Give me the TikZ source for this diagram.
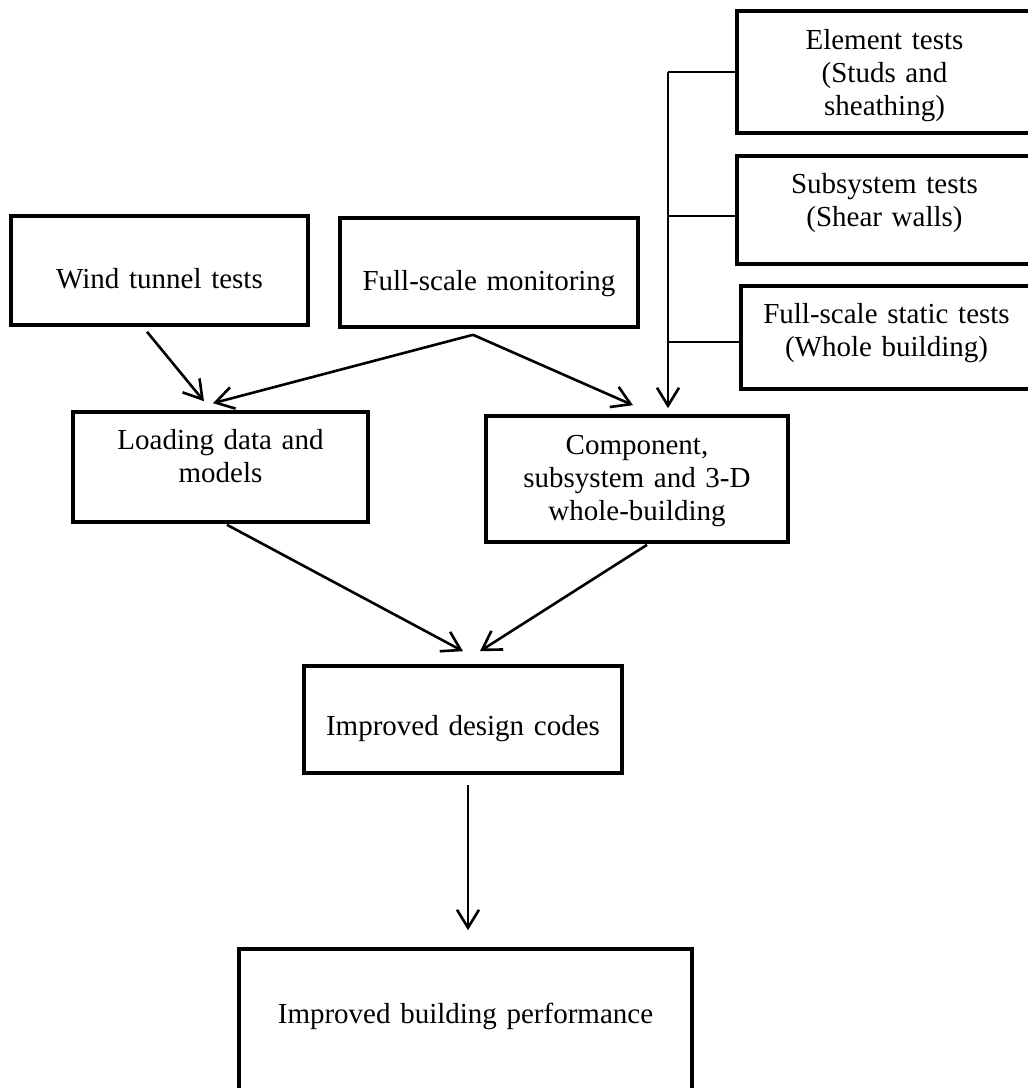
\documentclass[tikz,border=0pt]{standalone}
\usepackage{fontspec}
\setmainfont{Liberation Serif}
\usetikzlibrary{arrows.meta,calc}

\begin{document}
\begin{tikzpicture}[x=0.5pt, y=-0.5pt,
    font=\fontsize{14.5}{16.5}\selectfont,
    box/.style 2 args={draw, line width=1.8pt, inner sep=0pt, align=center,
        minimum width=#1, minimum height=#2, text width=#1-8pt},
    sink/.style={text height=#1, text depth=0pt},
    rise/.style={text height=0pt, text depth=#1},
    wire/.style={line width=1.3pt},
    link/.style={wire, -{Straight Barb[length=9pt, width=11pt]}}]
\useasboundingbox (0,0) rectangle (1028,1088);
\node[box={147.5pt}{61pt}, rise=23pt] (elem) at (884.5,72) {Element tests\\(Studs and\\sheathing)};
\node[box={147.5pt}{54pt}, rise=17pt] (subsys) at (884.5,210) {Subsystem tests\\(Shear walls)};
\node[box={145.5pt}{51.5pt}, rise=14.5pt] (static) at (886.5,337.5) {Full-scale static tests\\(Whole building)};
\node[box={148.5pt}{54.5pt}, sink=17.5pt] (wind) at (159.5,270.5) {Wind tunnel tests};
\node[box={149pt}{54.5pt}, sink=17.5pt] (monit) at (489,272.5) {Full-scale monitoring};
\node[box={147.5pt}{55pt}, rise=18pt] (load) at (220.5,467) {Loading data and\\models};
\node[box={151pt}{63pt}, rise=25pt] (comp) at (637,479) {Component,\\subsystem and 3-D\\whole-building};
\node[box={159pt}{53.5pt}, sink=15.5pt] (design) at (463,719.5) {Improved design codes};
\node[box={226.5pt}{75.5pt}, rise=1.5pt] (perf) at (465.5,1024.5) {Improved building performance};
\coordinate (trunk) at (668,72);
\draw[wire] (elem.west) -- (trunk);
\draw[wire] ([yshift=-3pt]subsys.west) -| (trunk);
\draw[wire] ([yshift=-2.25pt]static.west) -| (trunk);
\draw[link, shorten >=3pt] (trunk) -- (trunk |- comp.north);
\draw[link] ($(wind.south)+(-12.5,5)$) -- ($(load.north)+(-16.5,-9)$);
\draw[link] ($(monit.south)+(-16,6)$) -- ($(load.north)+(-7.5,-7)$);
\draw[link] ($(monit.south)+(-16,6)$) -- ($(comp.north)+(-4,-9)$);
\draw[link] ($(load.south)+(6.5,1)$) -- ($(design.north)+(0,-13)$);
\draw[link] ($(comp.south)+(10,1)$) -- ($(design.north)+(17,-13)$);
\draw[link] ($(design.south)+(5,10)$) -- ($(perf.north)+(2.5,-17)$);
\end{tikzpicture}
\end{document}
